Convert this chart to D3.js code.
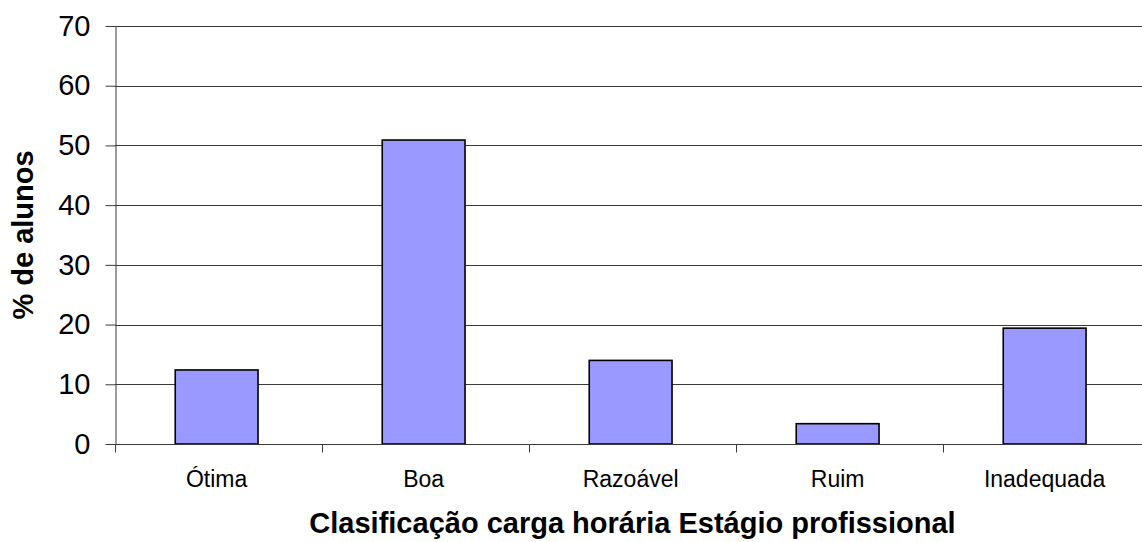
<!DOCTYPE html>
<html>
<head>
<meta charset="utf-8">
<script src="https://cdn.jsdelivr.net/npm/d3@7"></script>
<style>
html,body{margin:0;padding:0;background:#fff;}
svg{display:block;font-family:"Liberation Sans",Arial,sans-serif;}
</style>
</head>
<body>
<svg id="chart" width="1142" height="542"></svg>
<script>
const categories = ["Ótima", "Boa", "Razoável", "Ruim", "Inadequada"];
const values = [12.4, 50.9, 14.0, 3.4, 19.4];
const yTicks = [0, 10, 20, 30, 40, 50, 60, 70];
const xTitle = "Clasificação carga horária Estágio profissional";
const yTitle = "% de alunos";

const svg = d3.select("#chart");
const mLeft = 115, mRight = 1150, mTop = 26, mBottom = 444;

const x = d3.scaleBand().domain(categories).range([mLeft, mRight]).paddingInner(0.6).paddingOuter(0.3).align(0.485);
const y = d3.scaleLinear().domain([0, 70]).range([mBottom, mTop]);

// gridlines
svg.append("g").selectAll("line").data(yTicks.filter(d => d > 0)).join("line")
  .attr("x1", mLeft).attr("x2", mRight)
  .attr("y1", d => Math.round(y(d)) + 0.5).attr("y2", d => Math.round(y(d)) + 0.5)
  .attr("stroke", "#3a3a3a").attr("stroke-width", 1);

// bars
svg.append("g").selectAll("rect").data(categories).join("rect")
  .attr("x", (d) => x(d))
  .attr("y", (d, i) => y(values[i]))
  .attr("width", x.bandwidth())
  .attr("height", (d, i) => y(0) - y(values[i]))
  .attr("fill", "#9999FF").attr("stroke", "#000").attr("stroke-width", 1.6);

// y axis
const yAxis = d3.axisLeft(y).tickValues(yTicks).tickSize(10).tickPadding(15).tickSizeOuter(0);
const gy = svg.append("g").attr("transform", `translate(${mLeft + 0.5},0)`).call(yAxis);
gy.select(".domain").attr("stroke", "#3a3a3a");
gy.selectAll(".tick line").attr("stroke", "#3a3a3a");
gy.selectAll("text").attr("font-size", 29).attr("fill", "#000").attr("font-family", "Liberation Sans, Arial, sans-serif");

// x axis
const xAxis = d3.axisBottom(x).tickSize(0).tickPadding(0);
const gx = svg.append("g").attr("transform", `translate(0,${Math.round(mBottom) + 0.5})`).call(xAxis);
gx.select(".domain").attr("stroke", "#3a3a3a").attr("d", `M${mLeft},0H${mRight}`);
gx.selectAll("text").attr("font-size", 23).attr("fill", "#000").attr("dy", "1.85em")
  .attr("font-family", "Liberation Sans, Arial, sans-serif");
// category separator ticks
const bounds = d3.range(categories.length + 1).map(i => mLeft + i * (mRight - mLeft) / categories.length);
gx.append("g").selectAll("line").data(bounds).join("line")
  .attr("x1", d => Math.round(d) + 0.5).attr("x2", d => Math.round(d) + 0.5)
  .attr("y1", 0).attr("y2", 8).attr("stroke", "#3a3a3a");

// titles
svg.append("text").attr("x", (mLeft + mRight) / 2).attr("y", 533)
  .attr("text-anchor", "middle").attr("font-weight", "bold").attr("font-size", 29).text(xTitle);
svg.append("text").attr("transform", `translate(33,${(mTop + mBottom) / 2}) rotate(-90)`)
  .attr("text-anchor", "middle").attr("font-weight", "bold").attr("font-size", 29).text(yTitle);
</script>
</body>
</html>
